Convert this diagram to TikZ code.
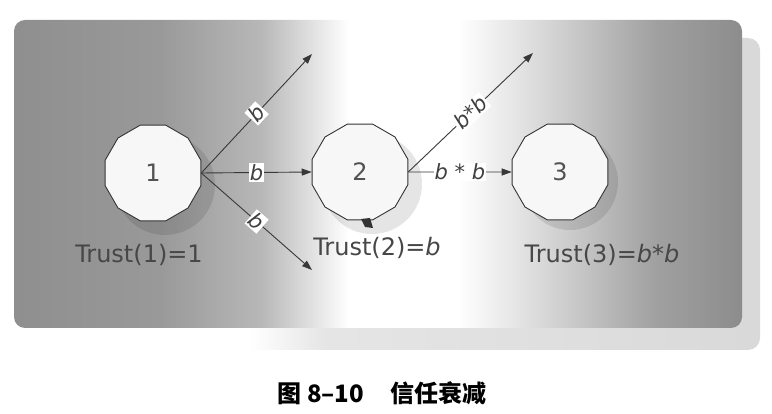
\documentclass[tikz,border=0pt]{standalone}
\usepackage{fontspec}
\setmainfont{DejaVu Sans}
\newfontfamily\cjkfont{Noto Sans CJK SC}
\usetikzlibrary{shapes.geometric,arrows.meta,calc}
\definecolor{gA}{gray}{0.56}
\definecolor{gB}{gray}{0.60}
\definecolor{gC}{gray}{0.72}
\definecolor{gD}{gray}{0.87}
\definecolor{gE}{gray}{0.91}
\definecolor{gF}{gray}{0.80}
\definecolor{gG}{gray}{0.63}
\definecolor{gH}{gray}{0.55}
\definecolor{sA}{gray}{0.90}
\definecolor{sB}{gray}{0.85}
\definecolor{inkc}{gray}{0.22}
\pgfdeclarehorizontalshading{panelshade}{100bp}{color(0bp)=(gA); color(25bp)=(gA); color(35bp)=(gB); color(42bp)=(gC); color(45.2bp)=(gD); color(48bp)=(white); color(55.5bp)=(white); color(59bp)=(gE); color(63bp)=(gF); color(69bp)=(gG); color(75bp)=(gH); color(100bp)=(gH)}
\pgfdeclarehorizontalshading{shadowshade}{100bp}{color(0bp)=(white); color(25bp)=(white); color(40bp)=(white); color(45bp)=(sA); color(75bp)=(sB); color(100bp)=(sB)}
\tikzset{
  vnode/.style={regular polygon, regular polygon sides=12, minimum size=99pt, inner sep=0pt,
    draw=black!80, line width=0.9pt, fill=black!3, font=\fontsize{24}{26}\selectfont, text=black!68},
  nshadow/.style={fill=black, opacity=0.10},
  conn/.style={draw=inkc, line width=0.9pt, -{Triangle[length=10pt,width=7pt]}},
  elab/.style={fill=white, inner sep=1.2pt, font=\fontsize{21}{23}\selectfont\itshape, text=black!75},
  tlab/.style={font=\fontsize{24}{26}\selectfont, text=black!72, inner sep=0pt},
}
\begin{document}
\begin{tikzpicture}[x=1pt,y=-1pt]
\useasboundingbox (0,0) rectangle (772,414);
% shadow and panel
\shade[shading=shadowshade, rounded corners=12pt] (32,38) rectangle (760,350);
\shade[shading=panelshade, rounded corners=11pt] (14,20) rectangle (742,328);
% node shadows
\fill[nshadow] (165,185) circle (50);
\fill[nshadow] (372,184) circle (50);
\fill[nshadow] (570,182) circle (48);
% nodes
\node[vnode] (n1) at (153,173) {1};
\node[vnode] (n2) at (360,172) {2};
\node[vnode] (n3) at (560,172) {3};
% free ends
\coordinate (t1u) at (312,54);
\coordinate (t1d) at (312,270);
\coordinate (t2u) at (533,53);
% connectors
\draw[conn] (n1.east) -- node[elab, sloped] (l1u) {b} (t1u);
\draw[conn] (n1.east) -- node[elab] (l1m) {b} (n2.west);
\draw[conn] (n1.east) -- node[elab, sloped] (l1d) {b} (t1d);
\draw[conn] (n2.east) -- node[elab, sloped] (l2u) {b*b} (t2u);
\draw[conn] (n2.east) -- node[elab] (l2m) {b * b} (n3.west);
% small dark mark under node 2
\fill[black!80] (361,219) -- (370,218) -- (373,228) -- (365,227) -- cycle;
% trust labels
\node[tlab] (tr1) at (139,255) {Trust(1)=1};
\node[tlab] (tr2) at (377,248) {Trust(2)=\textit{b}};
\node[tlab] (tr3) at (602,255) {Trust(3)=\textit{b}*\textit{b}};
% caption
\node[font=\fontsize{24}{26}\selectfont\cjkfont\bfseries, inner sep=0pt] (cap) at (382,393) {图 8–10\hspace{1.1em}信任衰减};
\end{tikzpicture}
\end{document}
